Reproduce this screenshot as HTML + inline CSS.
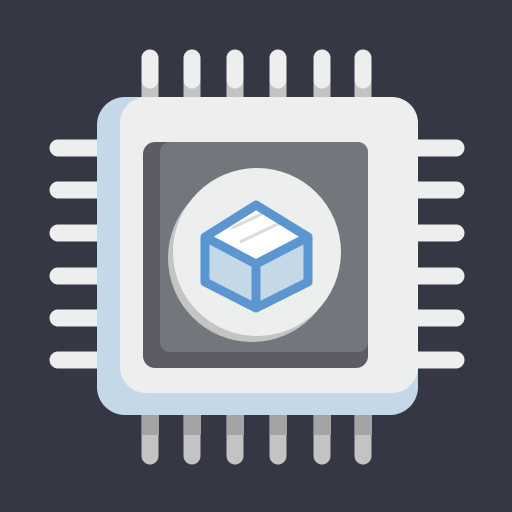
<html><body style="margin:0;background:#353744">
<svg width="512" height="512" viewBox="0 0 512 512" xmlns="http://www.w3.org/2000/svg">
<rect width="512" height="512" fill="#353744"/>
<g stroke-linecap="round" stroke-width="17">
<g stroke="#c3c3c3">
<line x1="150" y1="60" x2="150" y2="100"/><line x1="192" y1="60" x2="192" y2="100"/><line x1="235" y1="60" x2="235" y2="100"/><line x1="278" y1="60" x2="278" y2="100"/><line x1="322" y1="60" x2="322" y2="100"/><line x1="363" y1="60" x2="363" y2="100"/>
<line x1="150" y1="410" x2="150" y2="456"/><line x1="192" y1="410" x2="192" y2="456"/><line x1="235" y1="410" x2="235" y2="456"/><line x1="278" y1="410" x2="278" y2="456"/><line x1="322" y1="410" x2="322" y2="456"/><line x1="363" y1="410" x2="363" y2="456"/>
</g>
<g stroke="#edeeee">
<line x1="150" y1="58" x2="150" y2="80"/><line x1="192" y1="58" x2="192" y2="80"/><line x1="235" y1="58" x2="235" y2="80"/><line x1="278" y1="58" x2="278" y2="80"/><line x1="322" y1="58" x2="322" y2="80"/><line x1="363" y1="58" x2="363" y2="80"/>
<line x1="58" y1="148" x2="100" y2="148"/><line x1="58" y1="190" x2="100" y2="190"/><line x1="58" y1="233" x2="100" y2="233"/><line x1="58" y1="276" x2="100" y2="276"/><line x1="58" y1="318" x2="100" y2="318"/><line x1="58" y1="360" x2="100" y2="360"/>
<line x1="410" y1="148" x2="456" y2="148"/><line x1="410" y1="190" x2="456" y2="190"/><line x1="410" y1="233" x2="456" y2="233"/><line x1="410" y1="276" x2="456" y2="276"/><line x1="410" y1="318" x2="456" y2="318"/><line x1="410" y1="360" x2="456" y2="360"/>
</g>
</g>
<g fill="#a4a4a4"><rect x="142" y="415" width="17" height="20"/><rect x="184" y="415" width="17" height="20"/><rect x="227" y="415" width="17" height="20"/><rect x="270" y="415" width="17" height="20"/><rect x="314" y="415" width="17" height="20"/><rect x="355" y="415" width="17" height="20"/></g>
<rect x="97" y="97" width="321" height="318" rx="28" fill="#c5d8e8"/>
<rect x="120" y="97" width="298" height="296" rx="26" fill="#edeeee"/>
<rect x="143" y="142" width="225" height="226" rx="12" fill="#5b5c66"/>
<rect x="160" y="142" width="208" height="210" rx="10" fill="#74767e"/>
<circle cx="252" cy="258" r="84" fill="#c4c4c4"/>
<circle cx="257" cy="252" r="84" fill="#edeeee"/>
<polygon points="256,205 308,237 308,282 256,308 205,282 205,237" fill="#c5d8e8"/>
<polygon points="256,205 308,237 256,264 205,237" fill="#ffffff"/>
<line x1="232" y1="228" x2="270" y2="210" stroke="#dcdcdc" stroke-width="3"/>
<line x1="240" y1="242" x2="286" y2="220" stroke="#dcdcdc" stroke-width="3"/>
<g fill="none" stroke="#5b96d0" stroke-width="9" stroke-linejoin="round">
<polygon points="256,205 308,237 308,282 256,308 205,282 205,237"/>
<polyline points="205,237 256,264 308,237"/><line x1="256" y1="264" x2="256" y2="308"/>
</g>
</svg></body></html>
